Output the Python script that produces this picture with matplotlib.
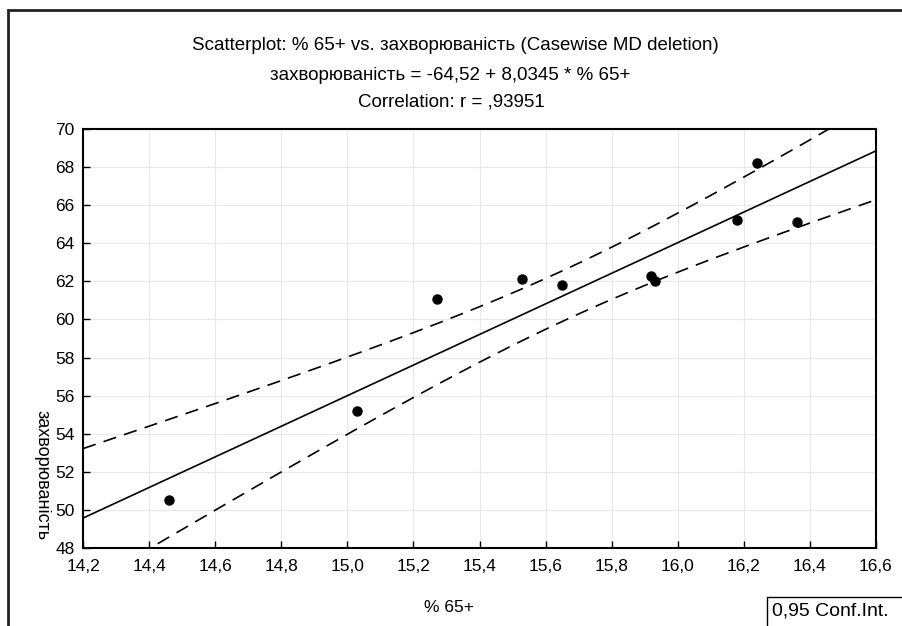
import matplotlib.pyplot as plt
import numpy as np
from matplotlib.patches import Rectangle
from matplotlib.ticker import FuncFormatter

plt.rcParams['font.family'] = ['Liberation Sans', 'DejaVu Sans']

# data
pct65 = np.array([14.46, 15.03, 15.27, 15.53, 15.65, 15.92, 15.93, 16.18, 16.24, 16.36])
morbidity = np.array([50.5, 55.2, 61.1, 62.1, 61.8, 62.3, 62.0, 65.2, 68.2, 65.1])

intercept = -64.52
slope = 8.0345
t_crit = 2.306  # t(0.975, df=8)

x_ticks = [14.2, 14.4, 14.6, 14.8, 15.0, 15.2, 15.4, 15.6, 15.8, 16.0, 16.2, 16.4, 16.6]
y_ticks = [48, 50, 52, 54, 56, 58, 60, 62, 64, 66, 68, 70]

fig = plt.figure(figsize=(9.02, 6.26), dpi=100)
ax = fig.add_axes([83 / 902, 1 - 548 / 626, (876 - 83) / 902, (548 - 129) / 626])

# regression line and 95% confidence band
xs = np.linspace(14.2, 16.6, 200)
yhat = intercept + slope * xs
n = len(pct65)
res = morbidity - (intercept + slope * pct65)
s = np.sqrt(np.sum(res ** 2) / (n - 2))
sxx = np.sum((pct65 - pct65.mean()) ** 2)
hw = t_crit * s * np.sqrt(1 / n + (xs - pct65.mean()) ** 2 / sxx)

ax.plot(xs, yhat, color='black', lw=1.2)
ax.plot(xs, yhat + hw, color='black', lw=1.2, ls=(0, (8, 5)))
ax.plot(xs, yhat - hw, color='black', lw=1.2, ls=(0, (8, 5)))
ax.plot(pct65, morbidity, 'o', color='black', ms=6.5)

ax.set_xlim(14.2, 16.6)
ax.set_ylim(48, 70)
ax.set_xticks(x_ticks)
ax.set_yticks(y_ticks)
ax.xaxis.set_major_formatter(FuncFormatter(lambda v, p: f'{v:.1f}'.replace('.', ',')))
ax.grid(True, color='#e8e8e8', lw=0.8)
ax.set_axisbelow(True)
ax.tick_params(direction='in', length=5, width=1, labelsize=12.5)
ax.tick_params(axis='x', pad=8)
ax.tick_params(axis='y', pad=6)
for sp in ax.spines.values():
    sp.set_linewidth(1.5)

fig.text(455 / 902, 1 - 45 / 626, 'Scatterplot: % 65+ vs. захворюваність (Casewise MD deletion)',
         ha='center', va='center', fontsize=13.5)
fig.text(450 / 902, 1 - 75 / 626, 'захворюваність = -64,52 + 8,0345 * % 65+',
         ha='center', va='center', fontsize=13.5)
fig.text(451 / 902, 1 - 102 / 626, 'Correlation: r = ,93951',
         ha='center', va='center', fontsize=13.5)
fig.text(449 / 902, 1 - 607 / 626, '% 65+', ha='center', va='center', fontsize=12.5)
fig.text(42 / 902, 1 - 475 / 626, 'захворюваність', rotation=270,
         ha='center', va='center', fontsize=13)

# outer frame (clipped at right and bottom)
fig.patches.append(Rectangle((8 / 902, -0.1), 1.2, 1 - 10 / 626 + 0.1, transform=fig.transFigure,
                             fill=False, edgecolor='#222222', lw=2))
# legend box
fig.patches.append(Rectangle((767 / 902, -0.1), 0.5, 0.1 + 1 - 597 / 626, transform=fig.transFigure,
                             fill=False, edgecolor='black', lw=1))
fig.text(772 / 902, 1 - 611 / 626, '0,95 Conf.Int.', ha='left', va='center', fontsize=14)

fig.savefig('out.png', dpi=100)
